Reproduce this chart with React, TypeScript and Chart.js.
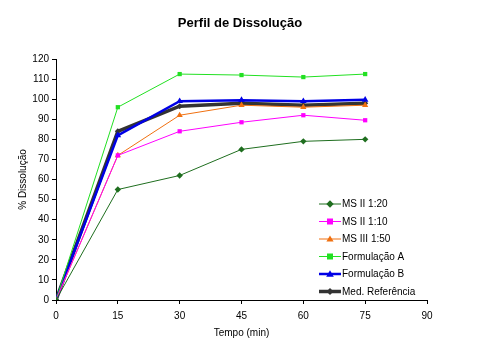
import React, { useEffect, useRef } from "react";
import { Chart, registerables } from "chart.js";

Chart.register(...registerables);

const times = [0, 15, 30, 45, 60, 75];
const seriesNames = ["MS II 1:20", "MS II 1:10", "MS III 1:50", "Formulação A", "Formulação B", "Med. Referência"];
const msII120 = [0, 55, 62, 75, 79, 80];
const msII110 = [0, 72, 84, 88.5, 92, 89.5];
const msIII150 = [0, 72, 92, 97, 96, 97];
const formA = [0, 96, 112.5, 112, 111, 112.5];
const formB = [0, 82, 99, 99.5, 99, 99.7];
const medRef = [0, 84, 96.5, 98, 97, 98];
const xTicks = [0, 15, 30, 45, 60, 75, 90];
const yTicks = [0, 10, 20, 30, 40, 50, 60, 70, 80, 90, 100, 110, 120];

const FONT = "'Liberation Sans', Arial, sans-serif";

const styles = [
  { color: "#1F6E1F", point: "rectRot", radius: 3.2, width: 1 },
  { color: "#FF00FF", point: "rect", radius: 3, width: 1 },
  { color: "#F07010", point: "triangle", radius: 3.6, width: 1 },
  { color: "#22E022", point: "rect", radius: 3, width: 1 },
  { color: "#0000E6", point: "triangle", radius: 3.8, width: 2.5 },
  { color: "#333333", point: "rectRot", radius: 3, width: 3.5 },
];

const allValues = [msII120, msII110, msIII150, formA, formB, medRef];

const overlayPlugin = {
  id: "overlay",
  afterDraw(chart: any) {
    const ctx = chart.ctx;
    ctx.save();
    ctx.fillStyle = "#000";
    ctx.font = `bold 13px ${FONT}`;
    ctx.textAlign = "center";
    ctx.textBaseline = "middle";
    ctx.fillText("Perfil de Dissolução", 240, 23);

    const ys = [204, 221.5, 239, 256.5, 274, 291.5];
    ctx.font = `10px ${FONT}`;
    ctx.textAlign = "left";
    seriesNames.forEach((name, i) => {
      const s = styles[i];
      const y = ys[i];
      ctx.strokeStyle = s.color;
      ctx.lineWidth = s.width;
      ctx.beginPath();
      ctx.moveTo(319, y);
      ctx.lineTo(341, y);
      ctx.stroke();
      ctx.fillStyle = s.color;
      const r = s.radius;
      const cx = 330;
      ctx.beginPath();
      if (s.point === "rect") {
        ctx.rect(cx - r, y - r, 2 * r, 2 * r);
      } else if (s.point === "rectRot") {
        ctx.moveTo(cx, y - r - 0.5);
        ctx.lineTo(cx + r + 0.5, y);
        ctx.lineTo(cx, y + r + 0.5);
        ctx.lineTo(cx - r - 0.5, y);
        ctx.closePath();
      } else {
        ctx.moveTo(cx, y - r);
        ctx.lineTo(cx + r, y + r * 0.7);
        ctx.lineTo(cx - r, y + r * 0.7);
        ctx.closePath();
      }
      ctx.fill();
      ctx.fillStyle = "#000";
      ctx.fillText(name, 342, y + 0.5);
    });
    ctx.restore();
  },
};

export default function App() {
  const ref = useRef<HTMLCanvasElement | null>(null);
  useEffect(() => {
    if (!ref.current) return;
    const datasets = seriesNames.map((name, i) => ({
      label: name,
      data: times.map((t, j) => ({ x: t, y: allValues[i][j] })),
      borderColor: styles[i].color,
      backgroundColor: styles[i].color,
      pointBackgroundColor: styles[i].color,
      pointBorderColor: styles[i].color,
      pointStyle: styles[i].point,
      pointRadius: styles[i].radius,
      pointBorderWidth: 0,
      borderWidth: styles[i].width,
      tension: 0,
      fill: false,
    }));
    const chart = new Chart(ref.current, {
      type: "line",
      data: { datasets },
      plugins: [overlayPlugin],
      options: {
        animation: false,
        responsive: false,
        devicePixelRatio: 1,
        layout: { padding: { top: 59, right: 54, bottom: 0, left: 0 } },
        plugins: { legend: { display: false }, title: { display: false }, tooltip: { enabled: false } },
        scales: {
          x: {
            type: "linear",
            min: 0,
            max: 90,
            afterBuildTicks: (s: any) => { s.ticks = xTicks.map((v) => ({ value: v })); },
            afterFit: (s: any) => { s.height = 60; },
            grid: { drawOnChartArea: false, drawTicks: true, tickLength: 4, color: "#000", tickColor: "#000" },
            border: { color: "#000", width: 1 },
            ticks: { color: "#000", font: { family: FONT, size: 10 }, padding: 6, maxRotation: 0 },
            title: { display: true, text: "Tempo (min)", color: "#000", font: { family: FONT, size: 10 }, padding: { top: 0, bottom: 21 } },
          },
          y: {
            type: "linear",
            min: 0,
            max: 120,
            afterBuildTicks: (s: any) => { s.ticks = yTicks.map((v) => ({ value: v })); },
            afterFit: (s: any) => { s.width = 56; },
            grid: { drawOnChartArea: false, drawTicks: true, tickLength: 4, color: "#000", tickColor: "#000" },
            border: { color: "#000", width: 1 },
            ticks: { color: "#000", font: { family: FONT, size: 10 }, padding: 3 },
            title: { display: true, text: "% Dissolução", color: "#000", font: { family: FONT, size: 10 }, padding: { top: 17, bottom: 0 } },
          },
        },
      } as any,
    });
    return () => chart.destroy();
  }, []);
  return (
    <div style={{ position: "fixed", left: 0, top: 0, width: 481, height: 360, background: "#fff" }}>
      <canvas ref={ref} width={481} height={360} style={{ width: 481, height: 360, display: "block" }} />
    </div>
  );
}
